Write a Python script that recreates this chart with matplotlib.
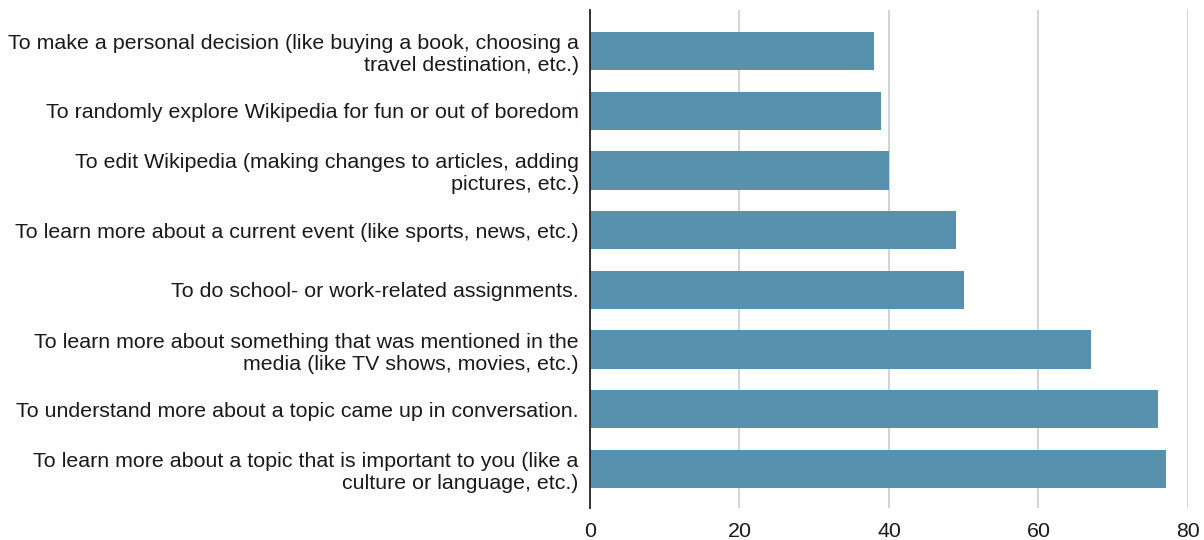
import matplotlib.pyplot as plt

plt.rcParams['font.family'] = ['Liberation Sans', 'DejaVu Sans']

# top to bottom as shown in the chart
labels = [
    "To make a personal decision (like buying a book, choosing a\ntravel destination, etc.)",
    "To randomly explore Wikipedia for fun or out of boredom",
    "To edit Wikipedia (making changes to articles, adding\npictures, etc.)",
    "To learn more about a current event (like sports, news, etc.)",
    "To do school- or work-related assignments.",
    "To learn more about something that was mentioned in the\nmedia (like TV shows, movies, etc.)",
    "To understand more about a topic came up in conversation.",
    "To learn more about a topic that is important to you (like a\nculture or language, etc.)",
]
values = [38, 39, 40, 49, 50, 67, 76, 77]
xticks = [0, 20, 40, 60, 80]

bar_color = '#5891ad'
text_color = '#1a1a1a'

fig = plt.figure(figsize=(12.04, 5.4), dpi=100)
ax = fig.add_axes([0.490, 0.0593, 0.4967, 0.9222])

n = len(labels)
ypos = [n - 1 - i for i in range(n)]
ax.barh(ypos, values, height=0.64, color=bar_color, zorder=3)

ax.set_xlim(0, 80)
ax.set_ylim(-0.653, n - 1 + 0.687)
ax.set_xticks(xticks)
ax.set_xticklabels([str(t) for t in xticks], fontsize=15.4, color=text_color)
ax.set_yticks(ypos)
ax.set_yticklabels(labels, fontsize=15.4, color=text_color, ha='right', linespacing=1.2)

ax.grid(axis='x', color='#cccccc', linewidth=1.2, zorder=0)
ax.tick_params(axis='both', length=0)
ax.tick_params(axis='x', pad=10)
ax.tick_params(axis='y', pad=8)
for s in ['top', 'right', 'bottom']:
    ax.spines[s].set_visible(False)
ax.spines['left'].set_color('#222222')
ax.spines['left'].set_linewidth(1.3)
ax.spines['left'].set_zorder(4)

fig.savefig('out.png', dpi=100)
